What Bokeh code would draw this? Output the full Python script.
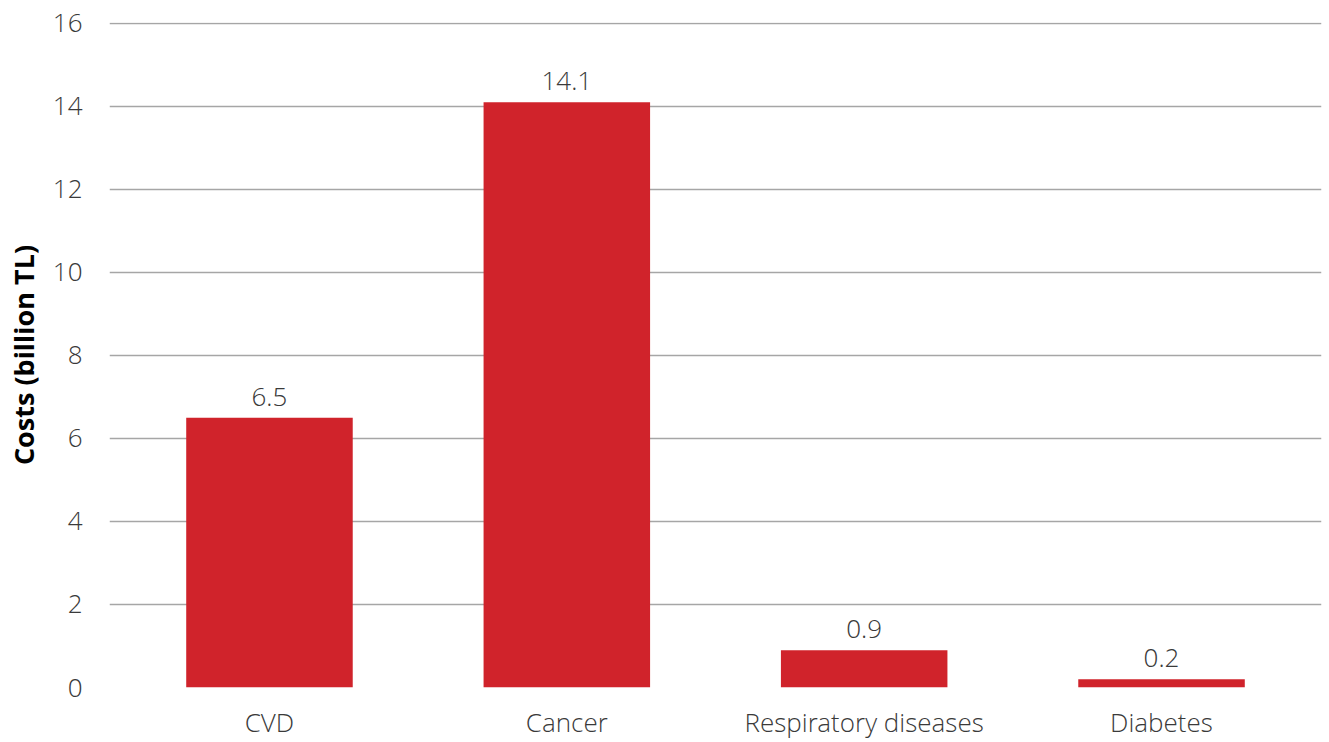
from bokeh.plotting import figure
from bokeh.models import ColumnDataSource, FactorRange, FixedTicker, LabelSet
from bokeh.core.properties import value
from bokeh.embed import file_html
from bokeh.resources import INLINE

# Annual costs by disease group, billion TL
categories = ["CVD", "Cancer", "Respiratory diseases", "Diabetes"]
costs = [6.5, 14.1, 0.9, 0.2]
y_ticks = [0, 2, 4, 6, 8, 10, 12, 14, 16]

FONT = "'Open Sans Light', 'Open Sans'"
TITLE_FONT = "Open Sans"
TEXT_COLOR = "#3a3a3a"
BAR_COLOR = "#d0232b"
GRID_COLOR = "#a6a6a6"

source = ColumnDataSource(dict(
    category=categories,
    cost=costs,
    label=[f"{v:.1f}" for v in costs],
))

p = figure(
    x_range=FactorRange(*categories, range_padding=0.019),
    y_range=(0, 16.02),
    width=1329, height=742,
    output_backend="svg", toolbar_location=None,
    min_border_left=109, min_border_right=8,
    min_border_top=22, min_border_bottom=54,
)

p.vbar(x="category", top="cost", width=0.56, source=source,
       fill_color=BAR_COLOR, line_color=None)

labels = LabelSet(x="category", y="cost", text="label", source=source,
                  text_align="center", text_baseline="alphabetic", y_offset=12,
                  text_font=value(FONT), text_font_size="26px",
                  text_color=TEXT_COLOR)
p.add_layout(labels)

# axes
p.yaxis.ticker = FixedTicker(ticks=y_ticks)
p.yaxis.axis_label = "Costs (billion TL)"
p.yaxis.axis_label_text_font = TITLE_FONT
p.yaxis.axis_label_text_font_style = "bold"
p.yaxis.axis_label_text_font_size = "27px"
p.yaxis.axis_label_text_color = "#000000"
p.yaxis.axis_label_standoff = 8
p.yaxis.major_label_standoff = 21
for ax in (p.xaxis, p.yaxis):
    ax.axis_line_color = None
    ax.major_tick_line_color = None
    ax.minor_tick_line_color = None
    ax.major_label_text_font = FONT
    ax.major_label_text_font_size = "26px"
    ax.major_label_text_color = TEXT_COLOR
p.xaxis.major_label_standoff = 10

# grid
p.xgrid.grid_line_color = None
p.ygrid.ticker = FixedTicker(ticks=y_ticks)
p.ygrid.grid_line_color = GRID_COLOR
p.ygrid.grid_line_width = 1.5

p.outline_line_color = None
p.background_fill_color = "white"
p.border_fill_color = "white"

open("out.html", "w").write(file_html(p, INLINE))
